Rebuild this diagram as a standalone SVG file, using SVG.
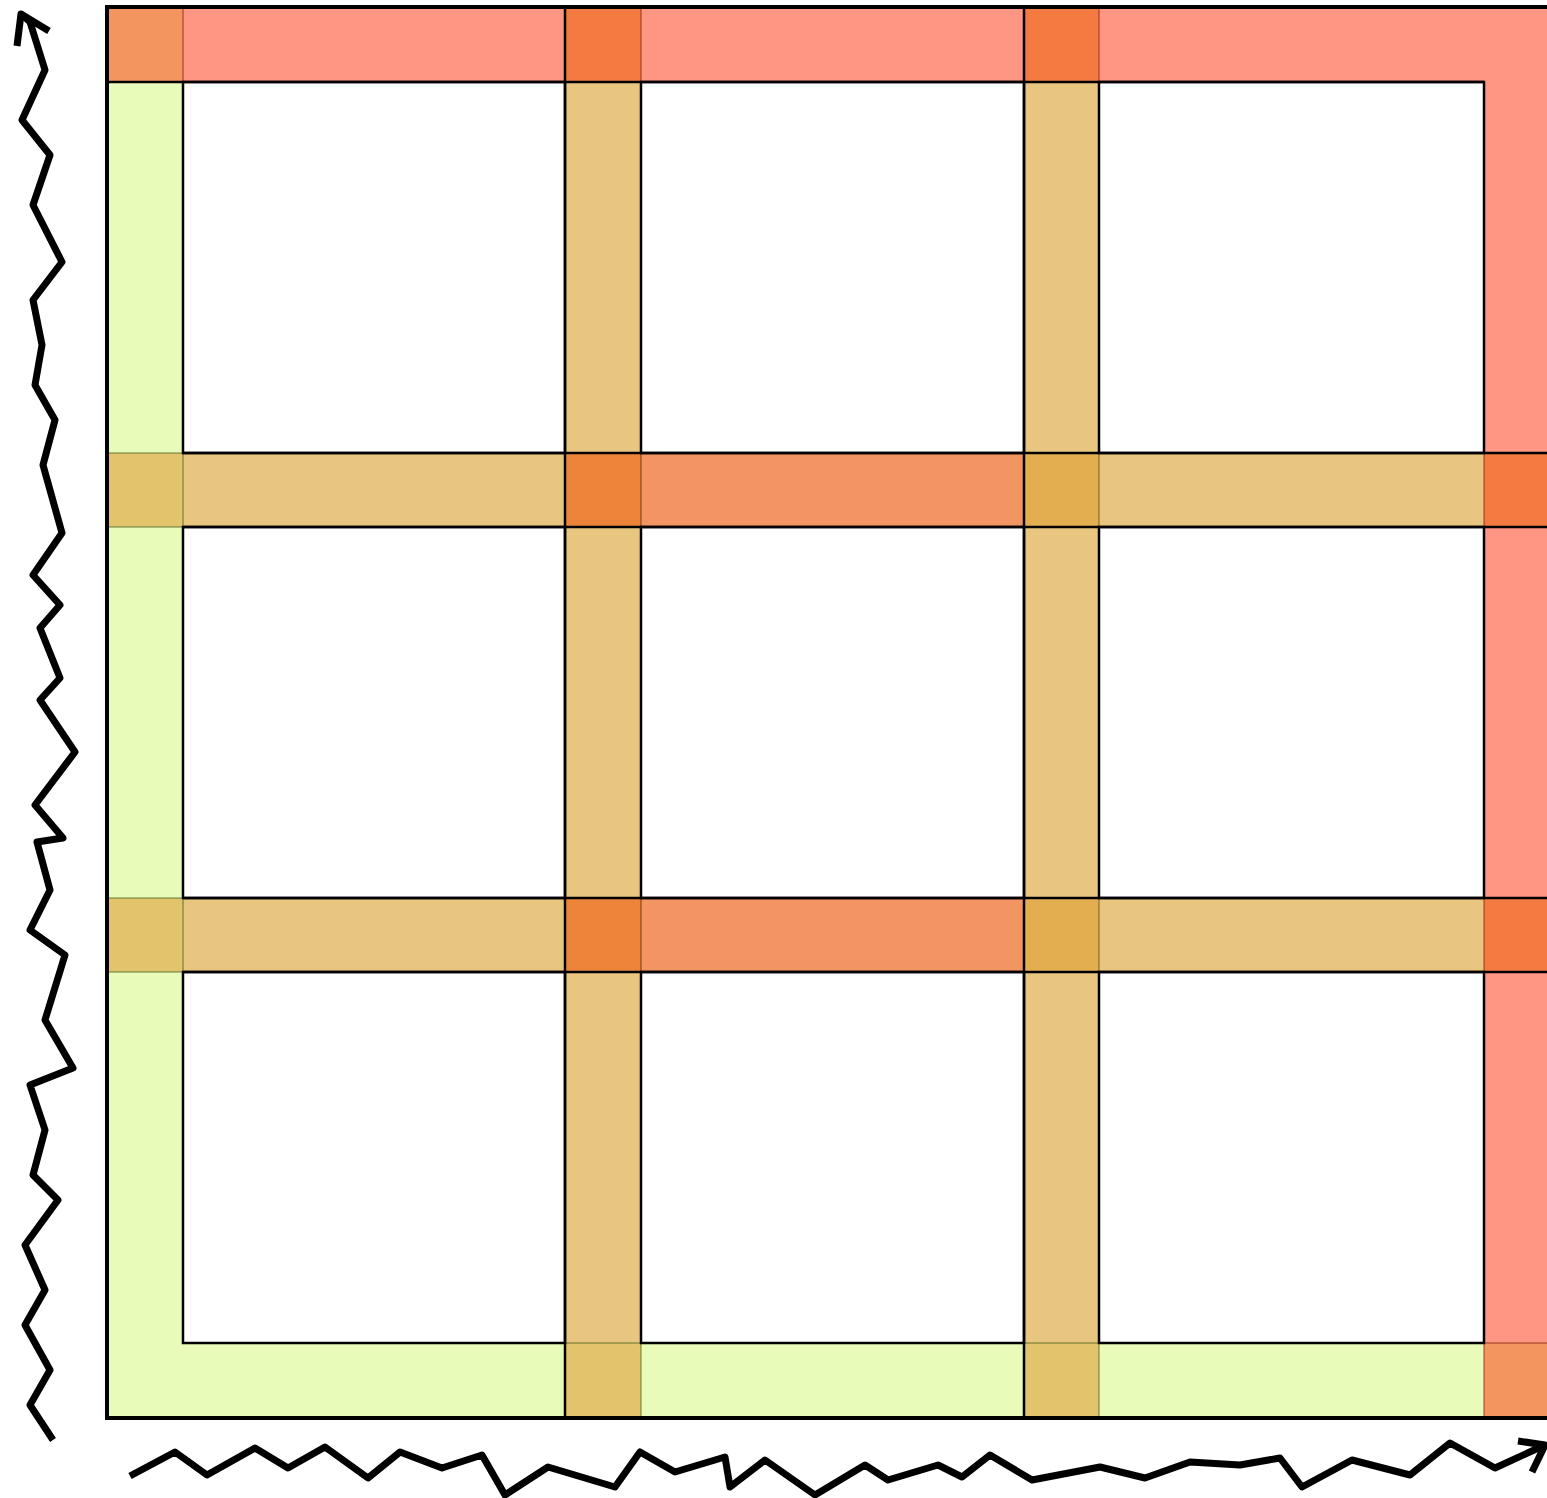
<svg xmlns="http://www.w3.org/2000/svg" width="1547" height="1498" viewBox="0 0 1547 1498">
<style>
.cell{fill:#ffffff;stroke:#000;stroke-width:2.5}
.green{fill:#e8fbb9}
.salmon{fill:#ff9683}
.ochre{fill:#e9c680}
.mid{fill:#f29563}
.x-red{fill:#f47a42;stroke:#7a1a00;stroke-opacity:0.5;stroke-width:1.5}
.x-org{fill:#ec8539;stroke:#5a1a00;stroke-opacity:0.5;stroke-width:1.5}
.x-gold{fill:#e2ae50;stroke:#4a4a10;stroke-opacity:0.5;stroke-width:1.5}
.x-lgold{fill:#e2c46c;stroke:#3a5a10;stroke-opacity:0.5;stroke-width:1.5}
.x-corner{fill:#f2955f;stroke:#7a1a00;stroke-opacity:0.5;stroke-width:1.5}
.wave{fill:none;stroke:#000;stroke-width:7;stroke-linejoin:round;stroke-linecap:butt}
</style>
<g id="bands">
<rect class="salmon" x="107" y="7" width="1440" height="75"/>
<rect class="salmon" x="1484" y="82" width="63" height="1336"/>
<rect class="green" x="107" y="82" width="76" height="1336"/>
<rect class="green" x="183" y="1343" width="1301" height="75"/>
<rect class="ochre" x="565" y="82" width="76" height="1261"/>
<rect class="ochre" x="1024" y="82" width="75" height="1261"/>
<rect class="ochre" x="183" y="453" width="1301" height="74"/>
<rect class="ochre" x="183" y="898" width="1301" height="74"/>
<rect class="mid" x="641" y="453" width="383" height="74"/>
<rect class="mid" x="641" y="898" width="383" height="74"/>
</g>
<g id="intersections">
<rect class="x-corner" x="107" y="7" width="76" height="75"/>
<rect class="x-red" x="565" y="7" width="76" height="75"/>
<rect class="x-red" x="1024" y="7" width="75" height="75"/>
<rect class="x-lgold" x="107" y="453" width="76" height="74"/>
<rect class="x-lgold" x="107" y="898" width="76" height="74"/>
<rect class="x-org" x="565" y="453" width="76" height="74"/>
<rect class="x-org" x="565" y="898" width="76" height="74"/>
<rect class="x-gold" x="1024" y="453" width="75" height="74"/>
<rect class="x-gold" x="1024" y="898" width="75" height="74"/>
<rect class="x-red" x="1484" y="453" width="65" height="74"/>
<rect class="x-red" x="1484" y="898" width="65" height="74"/>
<rect class="x-lgold" x="565" y="1343" width="76" height="75"/>
<rect class="x-lgold" x="1024" y="1343" width="75" height="75"/>
<rect class="x-corner" x="1484" y="1343" width="65" height="75"/>
</g>
<g id="cells">
<rect id="c11" class="cell" x="183" y="82" width="382" height="371"/>
<rect id="c12" class="cell" x="641" y="82" width="383" height="371"/>
<rect id="c13" class="cell" x="1099" y="82" width="385" height="371"/>
<rect id="c21" class="cell" x="183" y="527" width="382" height="371"/>
<rect id="c22" class="cell" x="641" y="527" width="383" height="371"/>
<rect id="c23" class="cell" x="1099" y="527" width="385" height="371"/>
<rect id="c31" class="cell" x="183" y="972" width="382" height="371"/>
<rect id="c32" class="cell" x="641" y="972" width="383" height="371"/>
<rect id="c33" class="cell" x="1099" y="972" width="385" height="371"/>
</g>
<g id="lines" fill="none" stroke="#000" stroke-width="2.5">
<line x1="565" y1="7" x2="565" y2="1418"/>
<line x1="1024" y1="7" x2="1024" y2="1418"/>
<line x1="183" y1="453" x2="1547" y2="453"/>
<line x1="183" y1="527" x2="1547" y2="527"/>
<line x1="183" y1="898" x2="1547" y2="898"/>
<line x1="183" y1="972" x2="1547" y2="972"/>
<line x1="107" y1="82" x2="1484" y2="82"/>
</g>
<g id="frame" fill="none" stroke="#000" stroke-width="4">
<polyline points="1547,7 107,7 107,1418 1547,1418"/>
</g>
<g id="connectors">
<polyline class="wave" points="53,1440 30,1405 50,1370 25,1325 45,1290 25,1245 58,1200 33,1175 45,1130 30,1085 73,1068 45,1020 65,955 30,930 50,890 37,842 63,838 35,805 75,752 40,700 60,678 40,628 60,605 33,575 62,533 43,465 55,420 35,385 42,345 33,300 62,262 33,205 50,155 22,120 45,70 30,22 21,14"/>
<polyline class="wave" points="17,46 21,14 49,31"/>
<polyline class="wave" points="130,1476 175,1452 207,1475 255,1448 288,1468 325,1447 368,1478 400,1452 442,1468 482,1455 505,1495 548,1467 615,1487 640,1452 675,1472 725,1457 730,1487 765,1460 815,1495 865,1465 888,1480 938,1465 962,1477 990,1455 1032,1480 1100,1467 1145,1478 1190,1462 1240,1465 1280,1458 1302,1487 1352,1460 1410,1475 1450,1443 1495,1468 1545,1445"/>
<polyline class="wave" points="1518,1441 1545,1445 1532,1472"/>
</g>
</svg>
